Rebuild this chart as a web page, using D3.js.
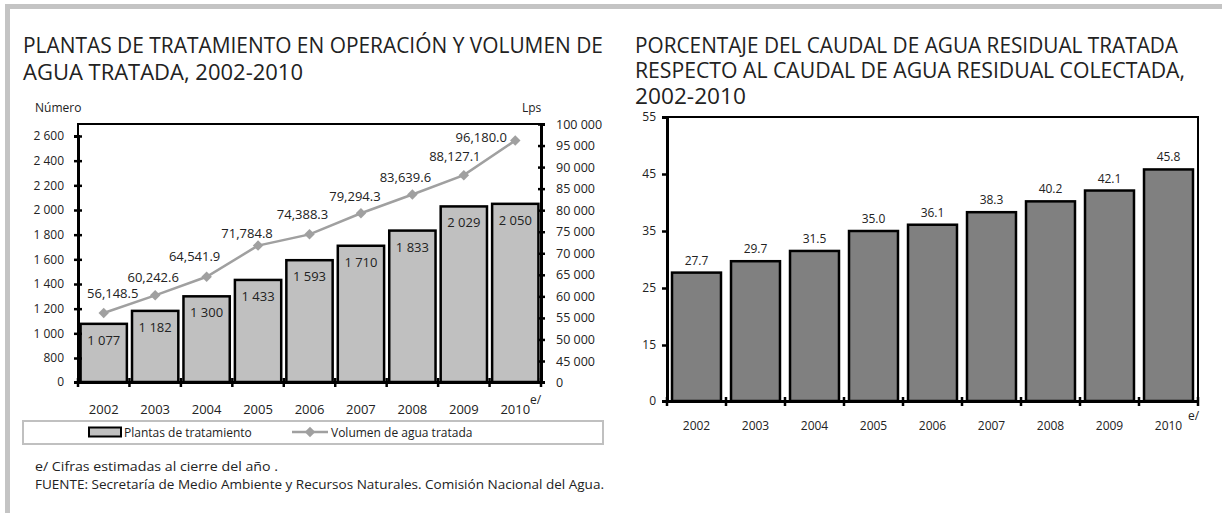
<!DOCTYPE html>
<html>
<head>
    <meta charset="utf-8">
    <title></title>
    <script src="https://d3js.org/d3.v7.min.js"></script>
    <style>
        body { margin: 0; background: #fff; }
        text { font-family: "Open Sans", sans-serif; fill: #222; }
    </style>
</head>
<body>

    <svg id="chart" width="1222" height="513"></svg>

    <script>

    var years = ["2002", "2003", "2004", "2005", "2006", "2007", "2008", "2009", "2010"];
    var plantas = [1077, 1182, 1300, 1433, 1593, 1710, 1833, 2029, 2050];
    var volumen = [56148.5, 60242.6, 64541.9, 71784.8, 74388.3, 79294.3, 83639.6, 88127.1, 96180.0];
    var porcentaje = [27.7, 29.7, 31.5, 35.0, 36.1, 38.3, 40.2, 42.1, 45.8];

    var leftTicks = [0, 800, 1000, 1200, 1400, 1600, 1800, 2000, 2200, 2400, 2600];
    var rightTicks = [0, 45000, 50000, 55000, 60000, 65000, 70000, 75000, 80000, 85000, 90000, 95000, 100000];
    var pctTicks = [0, 15, 25, 35, 45, 55];

    // hand placed offsets of the line labels (as in the original)
    var lblOff = [[9, -15], [-2, -13], [-12, -16], [-11, -8], [-7, -15], [-6, -12], [-7, -12], [-9, -14], [-34, 2]];

    var svg = d3.select("#chart");
    var fmtSp = n => d3.format(",")(n).replace(/,/g, " ");
    var fmtVol = d3.format(",.1f");

    // frame
    svg.append("line").attr("x1", 5).attr("x2", 1222).attr("y1", 6.5).attr("y2", 6.5)
        .attr("stroke", "#c4c4c4").attr("stroke-width", 5);
    svg.append("line").attr("x1", 7.5).attr("x2", 7.5).attr("y1", 4).attr("y2", 513)
        .attr("stroke", "#c4c4c4").attr("stroke-width", 5);

    // titles (width fitted to the original)
    function lines(x, ys, arr, widths, size) {
        arr.forEach((t, i) => svg.append("text").attr("x", x).attr("y", ys[i])
            .attr("font-size", size).attr("textLength", widths[i])
            .attr("lengthAdjust", "spacingAndGlyphs").text(t));
    }
    lines(23, [53, 80], ["PLANTAS DE TRATAMIENTO EN OPERACIÓN Y VOLUMEN DE", "AGUA TRATADA, 2002-2010"],
        [580, 280], 21);
    lines(635, [52.5, 78, 103.5], ["PORCENTAJE DEL CAUDAL DE AGUA RESIDUAL TRATADA",
        "RESPECTO AL CAUDAL DE AGUA RESIDUAL COLECTADA,", "2002-2010"], [543, 550, 111], 21);

    // ---------- left chart ----------
    var L = {x0: 78, x1: 541, y0: 124, y1: 382};
    var xL = d3.scaleBand().domain(years).range([L.x0, L.x1]).paddingInner(0.1).paddingOuter(0.05);
    var xStepL = d3.scaleBand().domain(years).range([L.x0, L.x1]);
    var yL = d3.scaleLinear().domain([0, 800, 2600]).range([382, 358, 136]);
    var yR = d3.scaleLinear().domain([0, 45000, 100000]).range([382, 361, 124]);

    var gL = svg.append("g");
    gL.append("rect").attr("x", L.x0).attr("y", L.y0).attr("width", L.x1 - L.x0).attr("height", L.y1 - L.y0)
        .attr("fill", "none").attr("stroke", "#000").attr("stroke-width", 2);

    gL.selectAll(".bar").data(plantas).enter().append("rect")
        .attr("x", (d, i) => xL(years[i])).attr("width", xL.bandwidth())
        .attr("y", d => yL(d)).attr("height", d => yL(0) - yL(d))
        .attr("fill", "#c0c0c0").attr("stroke", "#000").attr("stroke-width", 2.5);

    gL.selectAll(".blbl").data(plantas).enter().append("text")
        .attr("x", (d, i) => xL(years[i]) + xL.bandwidth() / 2).attr("y", d => yL(d) + 21)
        .attr("text-anchor", "middle").attr("font-size", 13).text(d => fmtSp(d));

    var axL = d3.axisLeft(yL).tickValues(leftTicks).tickSize(4).tickFormat(fmtSp);
    var gAxL = gL.append("g").attr("transform", "translate(" + L.x0 + ",0)").call(axL);
    var axR = d3.axisRight(yR).tickValues(rightTicks).tickSize(4).tickFormat(fmtSp);
    var gAxR = gL.append("g").attr("transform", "translate(" + L.x1 + ",0)").call(axR);
    var axB = d3.axisBottom(xStepL).tickValues([]).tickSize(0);
    var gAxB = gL.append("g").attr("transform", "translate(0," + L.y1 + ")").call(axB);

    [gAxL, gAxR, gAxB].forEach(g => {
        g.select(".domain").attr("stroke", "#000").attr("stroke-width", 3);
        g.selectAll(".tick line").attr("stroke", "#000").attr("stroke-width", 2.5);
        g.selectAll(".tick text").attr("font-size", 12).attr("fill", "#222")
            .style("font-family", "Open Sans");
    });
    gAxL.selectAll(".tick line").attr("x1", 4);
    gAxR.selectAll(".tick line").attr("x1", -3);
    gAxL.selectAll(".tick text").attr("x", -14);
    gAxR.selectAll(".tick text").attr("x", 15).attr("font-size", 12.5);

    // x ticks at band boundaries
    var bnds = years.map(y => xStepL(y)).concat([L.x1]);
    gL.selectAll(".xt").data(bnds).enter().append("line")
        .attr("x1", d => d).attr("x2", d => d).attr("y1", L.y1 - 4).attr("y2", L.y1 + 5)
        .attr("stroke", "#000").attr("stroke-width", 2.5);
    gL.selectAll(".xl").data(years).enter().append("text")
        .attr("x", d => xStepL(d) + xStepL.bandwidth() / 2).attr("y", 414)
        .attr("text-anchor", "middle").attr("font-size", 13).text(d => d);
    gL.append("text").attr("x", 530).attr("y", 404).attr("font-size", 12).text("e/");

    gL.append("text").attr("x", 35).attr("y", 112).attr("font-size", 12).text("Número");
    gL.append("text").attr("x", 522).attr("y", 112).attr("font-size", 12).text("Lps");

    // line series
    var pts = volumen.map((v, i) => [xL(years[i]) + xL.bandwidth() / 2, yR(v)]);
    var lnMkr = d3.line().curve(d3.curveLinear);
    gL.append("path").attr("d", lnMkr(pts)).attr("fill", "none")
        .attr("stroke", "#a0a0a0").attr("stroke-width", 2.5);
    var diamond = d3.symbol().type(d3.symbolDiamond2).size(70);
    gL.selectAll(".mk").data(pts).enter().append("path")
        .attr("d", diamond).attr("transform", d => "translate(" + d[0] + "," + d[1] + ")")
        .attr("fill", "#a0a0a0");
    gL.selectAll(".vl").data(volumen).enter().append("text")
        .attr("x", (d, i) => pts[i][0] + lblOff[i][0]).attr("y", (d, i) => pts[i][1] + lblOff[i][1])
        .attr("text-anchor", "middle").attr("font-size", 13).text(d => fmtVol(d));

    // legend
    var lg = svg.append("g");
    lg.append("rect").attr("x", 23).attr("y", 421).attr("width", 580).attr("height", 23)
        .attr("fill", "none").attr("stroke", "#c0c0c0").attr("stroke-width", 2);
    lg.append("rect").attr("x", 89).attr("y", 427.5).attr("width", 32).attr("height", 9)
        .attr("fill", "#c0c0c0").attr("stroke", "#000").attr("stroke-width", 2);
    lg.append("text").attr("x", 124).attr("y", 437).attr("font-size", 12).text("Plantas de tratamiento");
    lg.append("line").attr("x1", 292).attr("x2", 328).attr("y1", 432).attr("y2", 432)
        .attr("stroke", "#a0a0a0").attr("stroke-width", 2.5);
    lg.append("path").attr("d", diamond).attr("transform", "translate(310,432)").attr("fill", "#a0a0a0");
    lg.append("text").attr("x", 331).attr("y", 437).attr("font-size", 12).text("Volumen de agua tratada");

    // ---------- right chart ----------
    var R = {x0: 667, x1: 1198, y0: 117, y1: 401};
    var xP = d3.scaleBand().domain(years).range([R.x0, R.x1]).paddingInner(0.17).paddingOuter(0.085);
    var xStepP = d3.scaleBand().domain(years).range([R.x0, R.x1]);
    var yP = d3.scaleLinear().domain([0, 15, 55]).range([401, 345, 117]);

    var gR = svg.append("g");
    gR.append("rect").attr("x", R.x0).attr("y", R.y0).attr("width", R.x1 - R.x0).attr("height", R.y1 - R.y0)
        .attr("fill", "none").attr("stroke", "#000").attr("stroke-width", 2);
    gR.selectAll(".bar").data(porcentaje).enter().append("rect")
        .attr("x", (d, i) => xP(years[i])).attr("width", xP.bandwidth())
        .attr("y", d => yP(d)).attr("height", d => yP(0) - yP(d))
        .attr("fill", "#808080").attr("stroke", "#000").attr("stroke-width", 2.5);
    gR.selectAll(".pl").data(porcentaje).enter().append("text")
        .attr("x", (d, i) => xP(years[i]) + xP.bandwidth() / 2).attr("y", d => yP(d) - 8)
        .attr("text-anchor", "middle").attr("font-size", 12).text(d => d3.format(".1f")(d));

    var axP = d3.axisLeft(yP).tickValues(pctTicks).tickSize(5).tickFormat(d3.format("d"));
    var gAxP = gR.append("g").attr("transform", "translate(" + R.x0 + ",0)").call(axP);
    var gAxPB = gR.append("g").attr("transform", "translate(0," + R.y1 + ")")
        .call(d3.axisBottom(xStepP).tickValues([]).tickSize(0));
    [gAxP, gAxPB].forEach(g => {
        g.select(".domain").attr("stroke", "#000").attr("stroke-width", 3);
        g.selectAll(".tick line").attr("stroke", "#000").attr("stroke-width", 2.5);
        g.selectAll(".tick text").attr("font-size", 12).attr("fill", "#222")
            .style("font-family", "Open Sans");
    });
    gAxP.selectAll(".tick text").attr("x", -11);
    var bndsP = years.map(y => xStepP(y)).concat([R.x1]);
    gR.selectAll(".xt").data(bndsP).enter().append("line")
        .attr("x1", d => d).attr("x2", d => d).attr("y1", R.y1 - 4).attr("y2", R.y1 + 5)
        .attr("stroke", "#000").attr("stroke-width", 2.5);
    gR.selectAll(".xl").data(years).enter().append("text")
        .attr("x", d => xStepP(d) + xStepP.bandwidth() / 2).attr("y", 430)
        .attr("text-anchor", "middle").attr("font-size", 12).text(d => d);
    gR.append("text").attr("x", 1188).attr("y", 420).attr("font-size", 12).text("e/");

    // notes
    svg.append("text").attr("x", 35).attr("y", 471).attr("font-size", 13)
        .attr("textLength", 243).attr("lengthAdjust", "spacingAndGlyphs")
        .text("e/ Cifras estimadas al cierre del año .");
    svg.append("text").attr("x", 35).attr("y", 489).attr("font-size", 13)
        .attr("textLength", 569).attr("lengthAdjust", "spacingAndGlyphs")
        .text("FUENTE: Secretaría de Medio Ambiente y  Recursos Naturales.  Comisión Nacional del Agua.");

    </script>

</body></html>
